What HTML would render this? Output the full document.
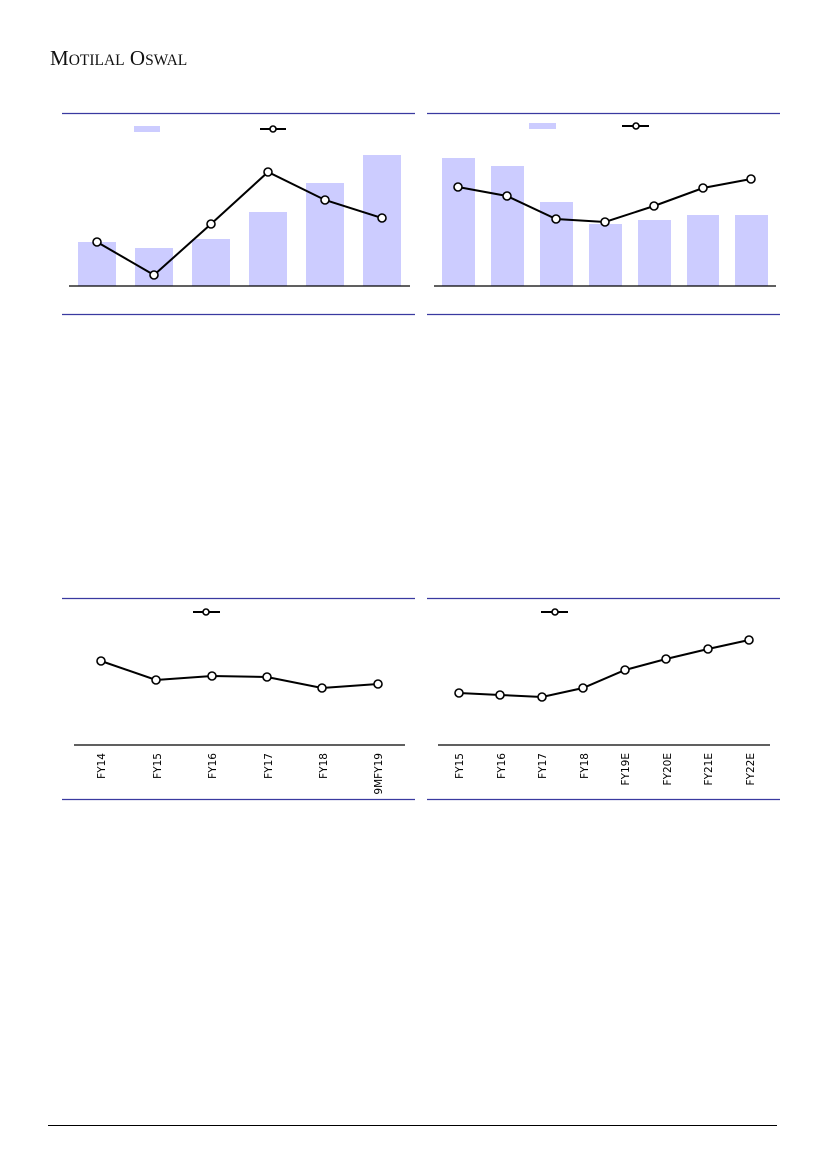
<!DOCTYPE html>
<html><head><meta charset="utf-8"><style>
html,body{margin:0;padding:0;background:#fff;width:827px;height:1169px;overflow:hidden}
svg{display:block}
.lab{font-family:"DejaVu Sans","Liberation Sans",sans-serif;font-size:10.5px;fill:#000}
</style></head><body>
<svg width="827" height="1169" viewBox="0 0 827 1169" xmlns="http://www.w3.org/2000/svg">
<text x="50" y="65" font-family="Liberation Serif,serif" font-size="21" fill="#111">M<tspan font-size="15.5">OTILAL</tspan> O<tspan font-size="15.5">SWAL</tspan></text>
<g stroke="#3a3aa0" stroke-width="1.2">
<line x1="62" y1="113.5" x2="415" y2="113.5"/><line x1="62" y1="314.5" x2="415" y2="314.5"/>
<line x1="427" y1="113.5" x2="780" y2="113.5"/><line x1="427" y1="314.5" x2="780" y2="314.5"/>
<line x1="62" y1="598.5" x2="415" y2="598.5"/><line x1="62" y1="799.5" x2="415" y2="799.5"/>
<line x1="427" y1="598.5" x2="780" y2="598.5"/><line x1="427" y1="799.5" x2="780" y2="799.5"/>
</g>
<line x1="48" y1="1125.5" x2="777" y2="1125.5" stroke="#000" stroke-width="1"/>
<g fill="#ccccff">
<rect x="134" y="126" width="26" height="6"/>
<rect x="78" y="242" width="38" height="44"/><rect x="135" y="248" width="38" height="38"/>
<rect x="192" y="239" width="38" height="47"/><rect x="249" y="212" width="38" height="74"/>
<rect x="306" y="183" width="38" height="103"/><rect x="363" y="155" width="38" height="131"/>
<rect x="529" y="123" width="27" height="6"/>
<rect x="442" y="158" width="33" height="128"/><rect x="491" y="166" width="33" height="120"/>
<rect x="540" y="202" width="33" height="84"/><rect x="589" y="224" width="33" height="62"/>
<rect x="638" y="220" width="33" height="66"/><rect x="687" y="215" width="32" height="71"/>
<rect x="735" y="215" width="33" height="71"/>
</g>
<g stroke="#000" stroke-width="1.2">
<line x1="69" y1="286" x2="410" y2="286"/><line x1="434" y1="286" x2="776" y2="286"/>
<line x1="74" y1="745" x2="405" y2="745"/><line x1="438" y1="745" x2="770" y2="745"/>
</g>
<g fill="none" stroke="#000" stroke-width="2">
<polyline points="97,242 154,275 211,224 268,172 325,200 382,218"/>
<polyline points="458,187 507,196 556,219 605,222 654,206 703,188 751,179"/>
<polyline points="101,661 156,680 212,676 267,677 322,688 378,684"/>
<polyline points="459,693 500,695 542,697 583,688 625,670 666,659 708,649 749,640"/>
<line x1="260" y1="129" x2="286" y2="129"/><line x1="622" y1="126" x2="649" y2="126"/>
<line x1="193" y1="612" x2="220" y2="612"/><line x1="541" y1="612" x2="568" y2="612"/>
</g>
<g fill="#fff" stroke="#000" stroke-width="1.6">
<circle cx="273" cy="129" r="3"/><circle cx="636" cy="126" r="3"/><circle cx="206" cy="612" r="3"/><circle cx="555" cy="612" r="3"/>
<circle cx="97" cy="242" r="4"/><circle cx="154" cy="275" r="4"/><circle cx="211" cy="224" r="4"/><circle cx="268" cy="172" r="4"/><circle cx="325" cy="200" r="4"/><circle cx="382" cy="218" r="4"/>
<circle cx="458" cy="187" r="4"/><circle cx="507" cy="196" r="4"/><circle cx="556" cy="219" r="4"/><circle cx="605" cy="222" r="4"/><circle cx="654" cy="206" r="4"/><circle cx="703" cy="188" r="4"/><circle cx="751" cy="179" r="4"/>
<circle cx="101" cy="661" r="4"/><circle cx="156" cy="680" r="4"/><circle cx="212" cy="676" r="4"/><circle cx="267" cy="677" r="4"/><circle cx="322" cy="688" r="4"/><circle cx="378" cy="684" r="4"/>
<circle cx="459" cy="693" r="4"/><circle cx="500" cy="695" r="4"/><circle cx="542" cy="697" r="4"/><circle cx="583" cy="688" r="4"/><circle cx="625" cy="670" r="4"/><circle cx="666" cy="659" r="4"/><circle cx="708" cy="649" r="4"/><circle cx="749" cy="640" r="4"/>
</g>
<g class="lab" text-anchor="end">
<text transform="translate(105,753) rotate(-90)">FY14</text>
<text transform="translate(161,753) rotate(-90)">FY15</text>
<text transform="translate(216,753) rotate(-90)">FY16</text>
<text transform="translate(272,753) rotate(-90)">FY17</text>
<text transform="translate(327,753) rotate(-90)">FY18</text>
<text transform="translate(382,753) rotate(-90)">9MFY19</text>
<text transform="translate(463,753) rotate(-90)">FY15</text>
<text transform="translate(505,753) rotate(-90)">FY16</text>
<text transform="translate(546,753) rotate(-90)">FY17</text>
<text transform="translate(588,753) rotate(-90)">FY18</text>
<text transform="translate(629,753) rotate(-90)">FY19E</text>
<text transform="translate(671,753) rotate(-90)">FY20E</text>
<text transform="translate(712,753) rotate(-90)">FY21E</text>
<text transform="translate(754,753) rotate(-90)">FY22E</text>
</g>
</svg>
</body></html>
